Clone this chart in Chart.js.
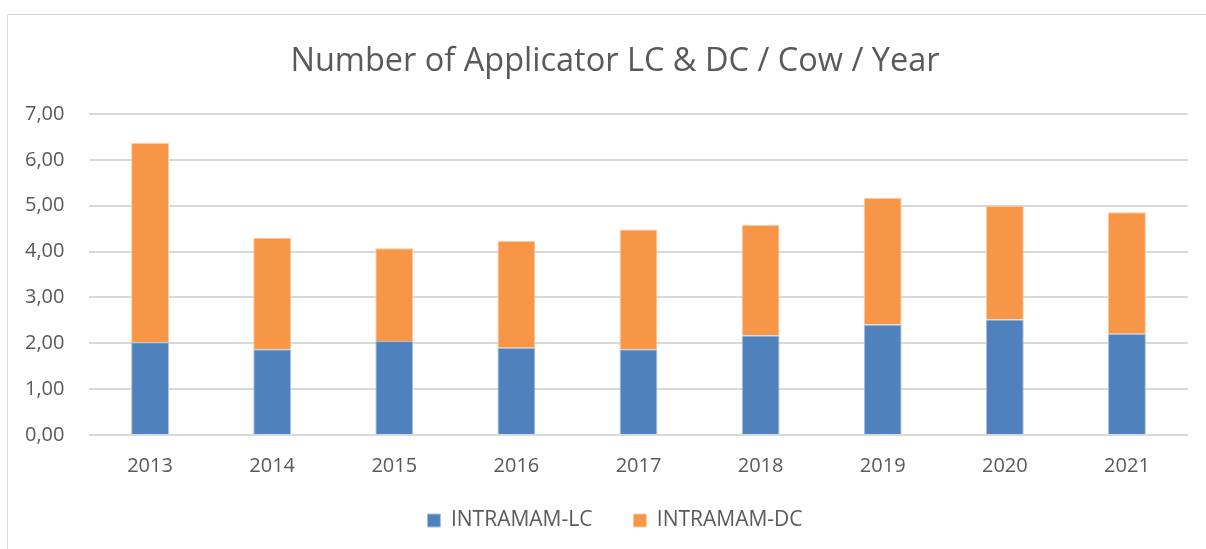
<!DOCTYPE html>
<html>
<head>
<meta charset="utf-8">
<script src="https://cdn.jsdelivr.net/npm/chart.js@4"></script>
<style>
  html, body { margin: 0; padding: 0; background: #fff; }
  #wrap { position: relative; width: 1206px; height: 549px; overflow: hidden; }
  #frame { position: absolute; left: 7px; top: 14px; width: 1220px; height: 560px; border: 1px solid #d9d9d9; box-sizing: border-box; }
  canvas { position: absolute; left: 0; top: 0; }
</style>
</head>
<body>
<div id="wrap">
  <div id="frame"></div>
  <canvas id="chart" width="1206" height="549"></canvas>
</div>
<script>
// data
var years = ['2013', '2014', '2015', '2016', '2017', '2018', '2019', '2020', '2021'];
var lcValues = [2.02, 1.87, 2.05, 1.90, 1.87, 2.17, 2.41, 2.52, 2.21];
var dcValues = [4.35, 2.43, 2.02, 2.33, 2.61, 2.41, 2.76, 2.48, 2.65];
var yTicks = [0, 1, 2, 3, 4, 5, 6, 7];

var textColor = '#595959';
var fontFamily = '"Open Sans", sans-serif';
var leftPad = 42;

var ctx = document.getElementById('chart').getContext('2d');
var myChart = new Chart(ctx, {
    type: 'bar',
    data: {
        labels: years,
        datasets: [
            {
                label: 'INTRAMAM-LC',
                data: lcValues,
                backgroundColor: '#4f81bd',
                borderColor: '#a7c0de',
                borderWidth: 1,
                barPercentage: 0.31,
                categoryPercentage: 1
            },
            {
                label: 'INTRAMAM-DC',
                data: dcValues,
                backgroundColor: '#f79646',
                borderColor: '#fbcaa2',
                borderWidth: 1,
                barPercentage: 0.31,
                categoryPercentage: 1
            }
        ]
    },
    options: {
        responsive: false,
        animation: false,
        layout: { padding: { left: leftPad, right: 18, top: 0, bottom: 8 } },
        scales: {
            x: {
                stacked: true,
                afterFit: function (scale) { scale.height = 45; },
                grid: { display: false, drawTicks: false },
                border: { display: false },
                ticks: { color: textColor, font: { family: fontFamily, size: 20 }, padding: 19 }
            },
            y: {
                stacked: true,
                min: 0,
                max: 7,
                afterFit: function (scale) { scale.width = 89 - leftPad; },
                afterBuildTicks: function (scale) {
                    scale.ticks = yTicks.map(function (v) { return { value: v }; });
                },
                grid: { color: '#d9d9d9', lineWidth: 2, drawTicks: false },
                border: { display: false },
                ticks: {
                    color: textColor,
                    font: { family: fontFamily, size: 20 },
                    // mirrored labels are not clipped to the axis box; pull them back left of the plot
                    mirror: true,
                    padding: -64,
                    callback: function (v) { return v.toFixed(2).replace('.', ','); }
                }
            }
        },
        plugins: {
            legend: {
                display: true,
                position: 'bottom',
                labels: {
                    color: textColor,
                    font: { family: fontFamily, size: 21 },
                    boxWidth: 13,
                    boxHeight: 13,
                    padding: 30,
                    generateLabels: function (chart) {
                        var items = Chart.defaults.plugins.legend.labels.generateLabels(chart);
                        items[0].text = items[0].text + '  ';
                        return items;
                    }
                }
            },
            title: {
                display: true,
                text: 'Number of Applicator LC & DC / Cow / Year',
                color: textColor,
                font: { family: fontFamily, size: 32.5, weight: 'normal' },
                padding: { top: 42, bottom: 33 }
            },
            tooltip: { enabled: false }
        }
    }
});
</script>
</body>
</html>
